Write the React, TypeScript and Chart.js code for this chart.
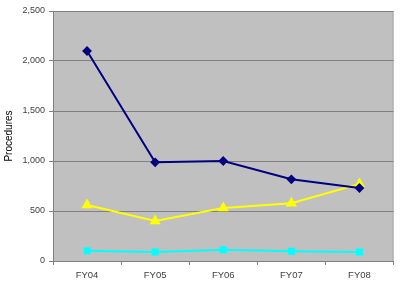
import React, { useEffect, useRef } from "react";
import { Chart, registerables } from "chart.js";

Chart.register(...registerables);

const categories = ["FY04", "FY05", "FY06", "FY07", "FY08"];
const navySeries = [2100, 987, 1000, 817, 730];
const yellowSeries = [560, 400, 530, 577, 770];
const cyanSeries = [103, 90, 113, 97, 90];
const yTicks = [0, 500, 1000, 1500, 2000, 2500];

const plotBg = {
  id: "plotBg",
  beforeDraw(chart: any) {
    const { ctx, chartArea } = chart;
    ctx.save();
    ctx.fillStyle = "#C0C0C0";
    ctx.fillRect(chartArea.left, chartArea.top, chartArea.right - chartArea.left, chartArea.bottom - chartArea.top);
    ctx.strokeStyle = "#A8A8A8";
    ctx.lineWidth = 1;
    ctx.beginPath();
    ctx.moveTo(chartArea.left, chartArea.top + 0.5);
    ctx.lineTo(chartArea.right - 0.5, chartArea.top + 0.5);
    ctx.lineTo(chartArea.right - 0.5, chartArea.bottom);
    ctx.stroke();
    ctx.restore();
  },
};

export default function App() {
  const ref = useRef<HTMLCanvasElement>(null);
  useEffect(() => {
    document.body.style.margin = "0";
    const chart = new Chart(ref.current!, {
      type: "line",
      data: {
        labels: categories,
        datasets: [
          {
            data: navySeries,
            borderColor: "#000080",
            backgroundColor: "#000080",
            borderWidth: 2,
            pointStyle: "rectRot",
            pointRadius: 3.5,
            tension: 0,
          },
          {
            data: yellowSeries,
            borderColor: "#FFFF00",
            backgroundColor: "#FFFF00",
            borderWidth: 2,
            pointStyle: "triangle",
            pointRadius: 4.5,
            tension: 0,
          },
          {
            data: cyanSeries,
            borderColor: "#00FFFF",
            backgroundColor: "#00FFFF",
            borderWidth: 2,
            pointStyle: "rect",
            pointRadius: 3.5,
            tension: 0,
          },
        ],
      },
      options: {
        animation: false,
        responsive: false,
        devicePixelRatio: 1,
        layout: { padding: { top: 11, right: 5, left: 0, bottom: 0 } },
        plugins: { legend: { display: false }, tooltip: { enabled: false } },
        scales: {
          x: {
            type: "category",
            offset: true,
            grid: {
              offset: true,
              drawOnChartArea: false,
              drawTicks: true,
              tickLength: 4,
              color: "#808080",
            },
            border: { color: "#808080", width: 1 },
            ticks: {
              color: "#404040",
              font: { family: "Liberation Sans", size: 9.5 },
              padding: 5,
              maxRotation: 0,
            },
            afterFit(scale: any) {
              scale.height = 25;
            },
          },
          y: {
            min: 0,
            max: 2500,
            afterBuildTicks(scale: any) {
              scale.ticks = yTicks.map((v) => ({ value: v }));
            },
            grid: {
              color: "#808080",
              drawTicks: true,
              tickLength: 4,
            },
            border: { color: "#808080", width: 1 },
            ticks: {
              color: "#404040",
              font: { family: "Liberation Sans", size: 9 },
              padding: 4,
              callback: (v: any) => Number(v).toLocaleString("en-US"),
            },
            title: {
              display: true,
              text: "Procedures",
              color: "#000000",
              font: { family: "Liberation Sans", size: 10 },
              padding: { top: 3, bottom: 4 },
            },
            afterFit(scale: any) {
              scale.width = 53;
            },
          },
        },
      },
      plugins: [plotBg],
    });
    return () => chart.destroy();
  }, []);
  return (
    <div style={{ position: "absolute", left: 0, top: 0, width: 400, height: 286 }}>
      <canvas ref={ref} width={400} height={286} style={{ width: 400, height: 286 }} />
    </div>
  );
}
